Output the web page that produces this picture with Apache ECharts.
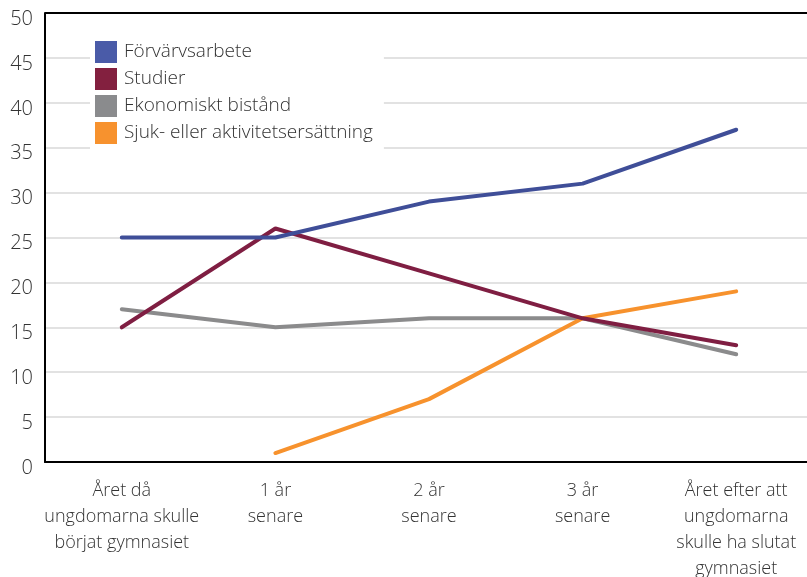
<!DOCTYPE html>
<html><head><meta charset="utf-8">
<script src="https://cdn.jsdelivr.net/npm/echarts@6/dist/echarts.min.js"></script>
<style>html,body{margin:0;padding:0;background:#fff}#c{width:807px;height:577px}</style>
</head><body><div id="c"></div>
<script>
const categories = ["Året då\nungdomarna skulle\nbörjat gymnasiet", "1 år\nsenare", "2 år\nsenare", "3 år\nsenare", "Året efter att\nungdomarna\nskulle ha slutat\ngymnasiet"];
const forvarvsarbete = [25, 25, 29, 31, 37];
const studier = [15, 26, 21, 16, 13];
const ekonomisktBistand = [17, 15, 16, 16, 12];
const sjukAktivitet = [null, 1, 7, 16, 19];
const seriesNames = ["Förvärvsarbete", "Studier", "Ekonomiskt bistånd", "Sjuk- eller aktivitetsersättning"];
const colors = {"Förvärvsarbete":"#3f4e98","Studier":"#7f1e42","Ekonomiskt bistånd":"#8b8b8c","Sjuk- eller aktivitetsersättning":"#f7922d"};
const legendColors = {"Förvärvsarbete":"#4a5ba8","Studier":"#83203f","Ekonomiskt bistånd":"#8a8b8d","Sjuk- eller aktivitetsersättning":"#f7922e"};
const font = "'Open Sans', 'Noto Sans', sans-serif";

function mk(name, data){
  return {name, type:'line', data, symbol:'none', smooth:false,
    itemStyle:{color:legendColors[name]},
    lineStyle:{color:colors[name], width:4, cap:'round'}};
}
const chart = echarts.init(document.getElementById('c'), null, {renderer:'canvas'});
chart.setOption({
  animation:false,
  grid:{left:45, right:-6, top:13, bottom:115, containLabel:false, outerBoundsMode:'none'},
  legend:{
    data: seriesNames, orient:'vertical', left:90, top:33,
    backgroundColor:'#fff', padding:[8,11,8,5],
    icon:'rect', itemWidth:22, itemHeight:22, itemGap:5,
    textStyle:{fontFamily:font, fontSize:19, color:'#333', fontWeight:300, padding:[0,0,0,2]}
  },
  xAxis:{type:'category', data:categories, boundaryGap:true,
    axisLine:{lineStyle:{color:'#000', width:2}},
    axisTick:{alignWithLabel:true, inside:true, length:10, lineStyle:{color:'#cfcfcf', width:1}},
    axisLabel:{fontFamily:font, fontSize:18, color:'#333', margin:16, lineHeight:26, interval:0, fontWeight:300},
    splitLine:{show:false}
  },
  yAxis:{type:'value', min:0, max:50, interval:5,
    axisLine:{show:true, lineStyle:{color:'#000', width:2}},
    axisTick:{show:false},
    axisLabel:{fontFamily:font, fontSize:20, color:'#333', margin:12, fontWeight:300, verticalAlign:'top', lineHeight:12},
    splitLine:{show:true, lineStyle:{color:'#d9d9d9', width:1.5}}
  },
  graphic:[{type:'line', shape:{x1:45, y1:13, x2:807, y2:13}, style:{stroke:'#000', lineWidth:2}, z:10}],
  series:[
    mk("Ekonomiskt bistånd", ekonomisktBistand),
    mk("Sjuk- eller aktivitetsersättning", sjukAktivitet),
    mk("Studier", studier),
    mk("Förvärvsarbete", forvarvsarbete)
  ]
});
</script></body></html>
